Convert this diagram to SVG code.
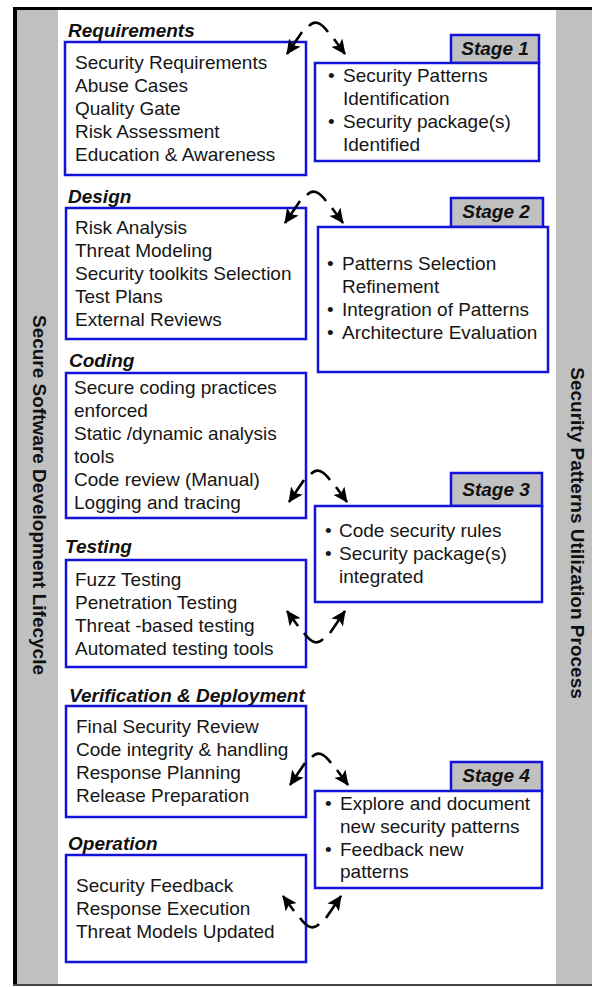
<svg xmlns="http://www.w3.org/2000/svg" xmlns:xlink="http://www.w3.org/1999/xlink" width="592" height="987" viewBox="0 0 592 987">
<style>
.bar{fill:#c0c0c0}
.box{fill:#fff;stroke:#1212d8;stroke-width:2.5}
.tab{fill:#c0c0c0;stroke:#1212d8;stroke-width:2.5}
.lbl{font-family:"Liberation Sans",Arial,sans-serif;font-size:19px;font-weight:bold;font-style:italic;fill:#111}
.stg{font-family:"Liberation Sans",Arial,sans-serif;font-size:19px;font-weight:bold;font-style:italic;fill:#111;text-anchor:middle}
.itm{font-family:"Liberation Sans",Arial,sans-serif;font-size:19px;fill:#161616}
.side{font-family:"Liberation Sans",Arial,sans-serif;font-size:19px;font-weight:bold;fill:#111;text-anchor:middle}
.cn{fill:none;stroke:#000;stroke-width:2.6}
</style>
<defs>
<marker id="ah" markerUnits="userSpaceOnUse" markerWidth="15" markerHeight="14" viewBox="0 0 15 14" refX="14" refY="7" orient="auto">
<path d="M0,0 L15,7 L0,14 L3.5,7 z" fill="#000"/>
</marker>
<g id="swap">
<path class="cn" d="M-14,-22 L-29,0" marker-end="url(#ah)"/>
<path class="cn" d="M-7,-28 Q1,-37 12,-22"/>
<path class="cn" d="M18,-15 L29,0" marker-end="url(#ah)"/>
</g>
</defs>
<rect width="592" height="987" fill="#fff"/>
<g id="frame">
<rect class="bar" x="17" y="10" width="41" height="974"/>
<rect class="bar" x="556" y="10" width="36" height="974"/>
<line x1="15" y1="7" x2="15" y2="986" stroke="#000" stroke-width="4"/>
<line x1="13" y1="8.5" x2="592" y2="8.5" stroke="#000" stroke-width="3"/>
<line x1="13" y1="985" x2="592" y2="985" stroke="#444" stroke-width="2"/>
<text class="side" transform="translate(33,495) rotate(90)">Secure Software Development Lifecycle</text>
<text class="side" transform="translate(571,533) rotate(90)">Security Patterns Utilization Process</text>
</g>
<g id="requirements">
<text class="lbl" x="68" y="37">Requirements</text>
<rect class="box" x="65" y="42" width="241" height="133"/>
<text class="itm"><tspan x="75" y="69">Security Requirements</tspan><tspan x="75" y="92">Abuse Cases</tspan><tspan x="75" y="115">Quality Gate</tspan><tspan x="75" y="138">Risk Assessment</tspan><tspan x="75" y="161">Education &amp; Awareness</tspan></text>
</g>
<g id="design">
<text class="lbl" x="68" y="203">Design</text>
<rect class="box" x="66" y="208" width="240" height="131"/>
<text class="itm"><tspan x="75" y="234">Risk Analysis</tspan><tspan x="75" y="257">Threat Modeling</tspan><tspan x="75" y="280">Security toolkits Selection</tspan><tspan x="75" y="303">Test Plans</tspan><tspan x="75" y="326">External Reviews</tspan></text>
</g>
<g id="coding">
<text class="lbl" x="69" y="367">Coding</text>
<rect class="box" x="66" y="373" width="240" height="145"/>
<text class="itm"><tspan x="74" y="394">Secure coding practices</tspan><tspan x="74" y="417">enforced</tspan><tspan x="74" y="440">Static /dynamic analysis</tspan><tspan x="74" y="463">tools</tspan><tspan x="74" y="486">Code review (Manual)</tspan><tspan x="74" y="509">Logging and tracing</tspan></text>
</g>
<g id="testing">
<text class="lbl" x="65" y="553">Testing</text>
<rect class="box" x="66" y="560" width="240" height="107"/>
<text class="itm"><tspan x="75" y="586">Fuzz Testing</tspan><tspan x="75" y="609">Penetration Testing</tspan><tspan x="75" y="632">Threat -based testing</tspan><tspan x="75" y="655">Automated testing tools</tspan></text>
</g>
<g id="verification">
<text class="lbl" x="69" y="702">Verification &amp; Deployment</text>
<rect class="box" x="66" y="706" width="240" height="111"/>
<text class="itm"><tspan x="76" y="733">Final Security Review</tspan><tspan x="76" y="756">Code integrity &amp; handling</tspan><tspan x="76" y="779">Response Planning</tspan><tspan x="76" y="802">Release Preparation</tspan></text>
</g>
<g id="operation">
<text class="lbl" x="68" y="850">Operation</text>
<rect class="box" x="66" y="855" width="240" height="107"/>
<text class="itm"><tspan x="76" y="892">Security Feedback</tspan><tspan x="76" y="915">Response Execution</tspan><tspan x="76" y="938">Threat Models Updated</tspan></text>
</g>
<g id="stage1">
<rect class="tab" x="451" y="35" width="88" height="28"/>
<text class="stg" x="495" y="55">Stage 1</text>
<rect class="box" x="315" y="63" width="224" height="98"/>
<text class="itm"><tspan x="328" y="82">•</tspan><tspan x="343" y="82">Security Patterns</tspan><tspan x="343" y="105">Identification</tspan><tspan x="328" y="128">•</tspan><tspan x="343" y="128">Security package(s)</tspan><tspan x="343" y="151">Identified</tspan></text>
</g>
<g id="stage2">
<rect class="tab" x="451" y="198" width="92" height="29"/>
<text class="stg" x="496" y="218">Stage 2</text>
<rect class="box" x="318" y="227" width="230" height="145"/>
<text class="itm"><tspan x="327" y="270">•</tspan><tspan x="342" y="270">Patterns Selection</tspan><tspan x="342" y="293">Refinement</tspan><tspan x="327" y="316">•</tspan><tspan x="342" y="316">Integration of Patterns</tspan><tspan x="327" y="339">•</tspan><tspan x="342" y="339">Architecture Evaluation</tspan></text>
</g>
<g id="stage3">
<rect class="tab" x="451" y="473" width="91" height="33"/>
<text class="stg" x="496" y="496">Stage 3</text>
<rect class="box" x="315" y="506" width="227" height="96"/>
<text class="itm"><tspan x="325" y="537">•</tspan><tspan x="339" y="537">Code security rules</tspan><tspan x="325" y="560">•</tspan><tspan x="339" y="560">Security package(s)</tspan><tspan x="339" y="583">integrated</tspan></text>
</g>
<g id="stage4">
<rect class="tab" x="451" y="762" width="91" height="29"/>
<text class="stg" x="496" y="782">Stage 4</text>
<rect class="box" x="315" y="791" width="227" height="97"/>
<text class="itm"><tspan x="325" y="810">•</tspan><tspan x="340" y="810">Explore and document</tspan><tspan x="340" y="833">new security patterns</tspan><tspan x="325" y="856">•</tspan><tspan x="340" y="856">Feedback new</tspan><tspan x="340" y="878">patterns</tspan></text>
</g>
<g id="connectors">
<use xlink:href="#swap" transform="translate(316,54)"/>
<use xlink:href="#swap" transform="translate(314,223)"/>
<use xlink:href="#swap" transform="translate(318,502)"/>
<use xlink:href="#swap" transform="translate(319,785)"/>
<use xlink:href="#swap" transform="translate(316,611) rotate(180)"/>
<use xlink:href="#swap" transform="translate(312,896) rotate(180)"/>
</g>
</svg>
